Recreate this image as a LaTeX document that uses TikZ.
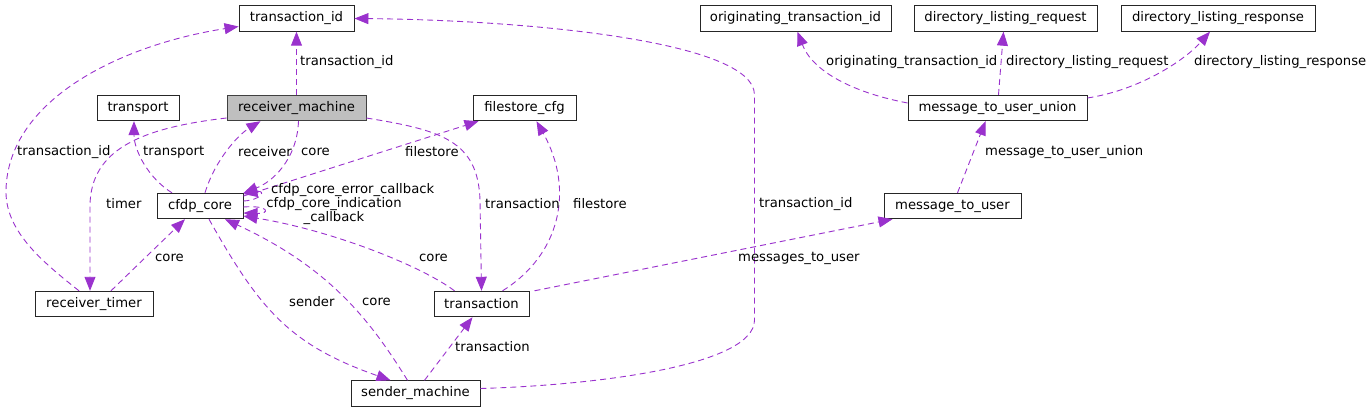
\documentclass[tikz,border=0pt]{standalone}
\usepackage{fontspec}
\setmainfont{DejaVu Sans}
\usetikzlibrary{arrows.meta}
\definecolor{edgec}{HTML}{9A32CD}
\tikzset{
  box/.style={draw=black!85, line width=0.9pt, minimum height=25.5pt, inner sep=0pt, font=\fontsize{13.2}{15}\selectfont},
  edge/.style={draw=edgec, line width=0.9pt, dash pattern=on 6pt off 4pt, -{Triangle[length=14pt,width=11pt,fill=edgec]}},
  lbl/.style={inner sep=0pt, anchor=west, font=\fontsize{13.2}{15}\selectfont}
}
\begin{document}
\begin{tikzpicture}[x=1pt,y=-1pt]
\useasboundingbox (0,0) rectangle (1371,412);
% nodes
\node[box, minimum width=115pt] (tid) at (296.5,18.5) {transaction\_id};
\node[box, minimum width=82pt] (transport) at (138,108) {transport};
\node[box, minimum width=139pt, fill=black!25, draw=black!75] (rm) at (296.5,108) {receiver\_machine};
\node[box, minimum width=86pt] (core) at (200,206) {cfdp\_core};
\node[box, minimum width=118pt] (rtimer) at (94,304) {receiver\_timer};
\node[box, minimum width=129pt] (sm) at (415.5,393.5) {sender\_machine};
\node[box, minimum width=95pt] (trans) at (481.5,304) {transaction};
\node[box, minimum width=103pt] (fcfg) at (524.5,108) {filestore\_cfg};
\node[box, minimum width=191pt] (orig) at (795.5,18.5) {originating\_transaction\_id};
\node[box, minimum width=183pt] (dlreq) at (1005.5,18.5) {directory\_listing\_request};
\node[box, minimum width=194pt] (dlresp) at (1218,18.5) {directory\_listing\_response};
\node[box, minimum width=179pt] (mtuu) at (997.5,108) {message\_to\_user\_union};
\node[box, minimum width=137pt] (mtu) at (952.5,206) {message\_to\_user};
% edges
\draw[edge] (rm.north) -- (tid.south);
\draw[edge] ([xshift=-15pt]rtimer.north) .. controls (40,260) and (5,230) .. (6,190) .. controls (8,100) and (120,45) .. ([yshift=-8pt]tid.west);
\draw[edge] ([xshift=-28pt]core.north) .. controls (148,178) and (134,150) .. ([xshift=-4pt]transport.south);
\draw[edge] ([xshift=5pt]core.north) .. controls (215,160) and (238,135) .. ([xshift=-36pt]rm.south);
\draw[edge] ([xshift=2pt]rm.south) .. controls (297,160) and (272,182) .. ([yshift=13pt]core.east);
\draw[edge] ([yshift=-10pt]rm.west) .. controls (140,128) and (91,150) .. (90,205) -- ([xshift=-4pt]rtimer.north);
\draw[edge] ([yshift=10pt]core.east) -- ([xshift=-46pt]fcfg.south);
\draw[edge] ([yshift=-10pt]rm.east) .. controls (440,130) and (478,140) .. (480,200) -- (trans.north);
\draw[edge] ([xshift=21pt]trans.north) .. controls (560,255) and (575,190) .. ([xshift=12pt]fcfg.south);
\draw[edge] ([yshift=5pt]core.east) .. controls (262,200) and (266,190) .. ([yshift=12pt]core.east);
\draw[edge] ([yshift=-1pt]core.east) .. controls (270,205) and (270,214) .. ([yshift=-7pt]core.east);
\draw[edge] ([xshift=-27pt]trans.north) .. controls (420,265) and (330,230) .. ([yshift=-10pt]core.east);
\draw[edge] ([xshift=17pt]rtimer.north) -- ([xshift=-15pt]core.south);
\draw[edge] ([xshift=9pt]core.south) .. controls (260,310) and (290,345) .. ([xshift=-25pt]sm.north);
\draw[edge] ([xshift=-8pt]sm.north) .. controls (370,320) and (330,268) .. ([xshift=25pt]core.south);
\draw[edge] ([xshift=9pt]sm.north) -- ([xshift=-9pt]trans.south);
\draw[edge] ([yshift=5pt]sm.east) .. controls (600,385) and (754.5,365) .. (754.5,320) -- (754.5,95) .. controls (754.5,40) and (520,20) .. (tid.east);
\draw[edge] ([xshift=53pt]trans.north) -- ([xshift=-60pt]mtu.south);
\draw[edge] ([xshift=5pt]mtu.north) -- ([xshift=-12pt]mtuu.south);
\draw[edge] ([yshift=5pt]mtuu.west) .. controls (850,92) and (812,70) .. ([xshift=2pt]orig.south);
\draw[edge] ([xshift=1pt]mtuu.north) -- ([xshift=-2pt]dlreq.south);
\draw[edge] ([yshift=10pt]mtuu.east) .. controls (1140,90) and (1185,60) .. ([xshift=-8pt]dlresp.south);
% labels
\node[lbl] (l1) at (300,62) {transaction\_id};
\node[lbl] (l2) at (17,152) {transaction\_id};
\node[lbl] (l3) at (143,152) {transport};
\node[lbl] (l4) at (238,152) {receiver};
\node[lbl] (l5) at (301,152) {core};
\node[lbl] (l6) at (405,152) {filestore};
\node[lbl] (l7) at (106,204) {timer};
\node[lbl] (l8) at (271,190) {cfdp\_core\_error\_callback};
\node[inner sep=0pt, align=center, font=\fontsize{13.2}{14.5}\selectfont] (l9) at (334,211) {cfdp\_core\_indication\\\_callback};
\node[lbl] (l10) at (485,204) {transaction};
\node[lbl] (l11) at (573,204) {filestore};
\node[lbl] (l12) at (759,204) {transaction\_id};
\node[lbl] (l13) at (155,258) {core};
\node[lbl] (l14) at (419,258) {core};
\node[lbl] (l15) at (738,258) {messages\_to\_user};
\node[lbl] (l16) at (289,302) {sender};
\node[lbl] (l17) at (362,302) {core};
\node[lbl] (l18) at (455,347) {transaction};
\node[lbl] (l19) at (985,152) {message\_to\_user\_union};
\node[lbl] (l20) at (826,62) {originating\_transaction\_id};
\node[lbl] (l21) at (1006,62) {directory\_listing\_request};
\node[lbl] (l22) at (1194,62) {directory\_listing\_response};
\end{tikzpicture}
\end{document}
